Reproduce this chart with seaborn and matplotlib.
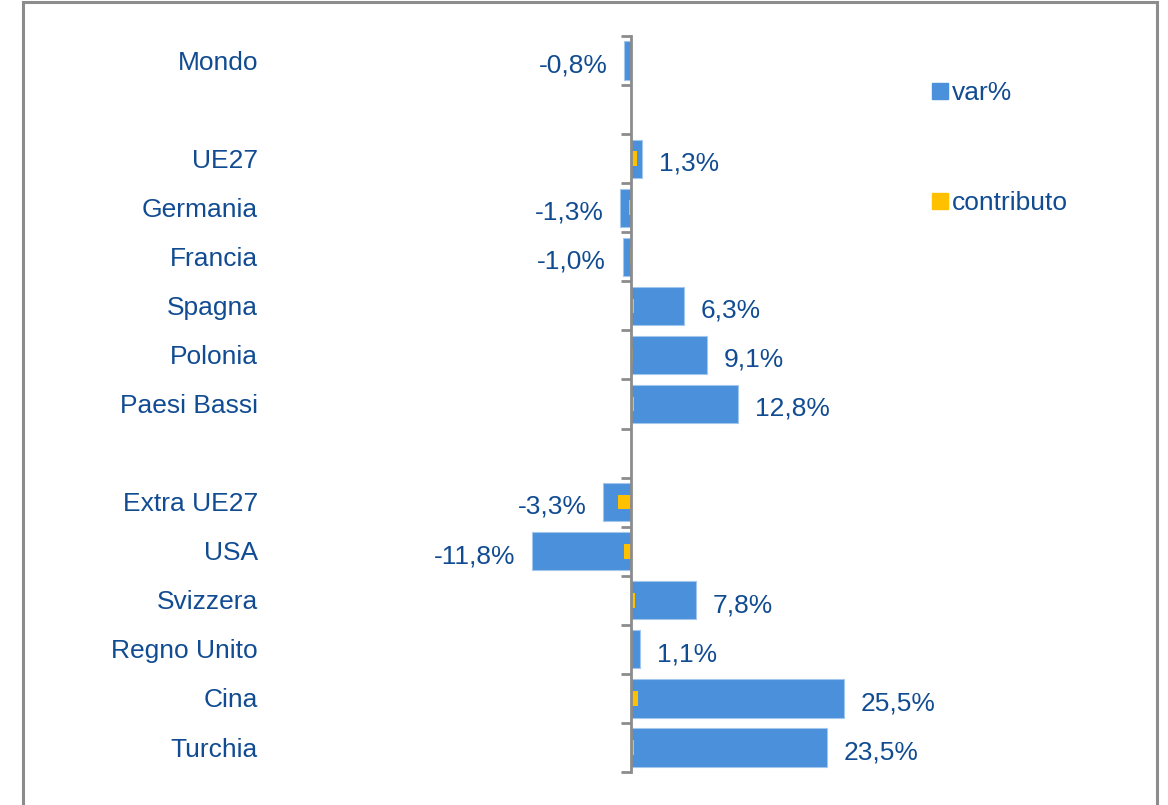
import numpy as np
import pandas as pd
import matplotlib
matplotlib.use('Agg')
import matplotlib.pyplot as plt
import seaborn as sns
from matplotlib.patches import Rectangle
from matplotlib.lines import Line2D
from matplotlib.transforms import blended_transform_factory, offset_copy

# Data (rows top to bottom, "" = empty spacer row)
paesi = ['Mondo', '', 'UE27', 'Germania', 'Francia', 'Spagna', 'Polonia', 'Paesi Bassi',
         '', 'Extra UE27', 'USA', 'Svizzera', 'Regno Unito', 'Cina', 'Turchia']
var_pct = [-0.8, np.nan, 1.3, -1.3, -1.0, 6.3, 9.1, 12.8,
           np.nan, -3.3, -11.8, 7.8, 1.1, 25.5, 23.5]
contributo = [np.nan, np.nan, 0.7, -0.2, -0.1, 0.3, 0.25, 0.3,
              np.nan, -1.5, -0.85, 0.45, 0.05, 0.8, 0.4]
var_labels = ['-0,8%', '', '1,3%', '-1,3%', '-1,0%', '6,3%', '9,1%', '12,8%',
              '', '-3,3%', '-11,8%', '7,8%', '1,1%', '25,5%', '23,5%']

blue = '#4A90DA'
yellow = '#FFC000'
txt = '#114C92'
grey = '#8C8C8C'

# unique row keys so the spacer rows keep their place
rows = [f'r{i}' for i in range(len(paesi))]
df = pd.DataFrame({'row': rows, 'var': var_pct, 'contr': contributo})

sns.set_style('white')
plt.rcParams['font.family'] = ['Liberation Sans', 'DejaVu Sans']

W, H = 1168, 805
fig = plt.figure(figsize=(W / 100, H / 100), dpi=100)
x0 = 631            # pixel of zero line
ppu = 8.35          # pixels per percentage point
ax_l, ax_r = 300, 1100
ax_top, ax_bot = 36, 772
ax = fig.add_axes([ax_l / W, (H - ax_bot) / H, (ax_r - ax_l) / W, (ax_bot - ax_top) / H])

sns.barplot(data=df, x='var', y='row', order=rows, orient='h', color=blue,
            saturation=1, width=0.78, edgecolor='#A3C6EC', linewidth=0.8, ax=ax)
sns.barplot(data=df, x='contr', y='row', order=rows, orient='h', color=yellow,
            saturation=1, width=0.3, linewidth=0, ax=ax)

ax.set_xlim((ax_l - x0) / ppu, (ax_r - x0) / ppu)
ax.set_ylim(len(rows) - 0.5, -0.5)
ax.set_xlabel('')
ax.set_ylabel('')

for s in ['top', 'right', 'bottom']:
    ax.spines[s].set_visible(False)
ax.spines['left'].set_position(('data', 0))
ax.spines['left'].set_color(grey)
ax.spines['left'].set_linewidth(2)
ax.set_xticks([])
ax.set_yticks(np.arange(-0.5, len(rows), 1.0))
ax.set_yticklabels([])
ax.tick_params(axis='y', direction='out', length=7, width=2, color=grey, left=True)

# category names
tr = blended_transform_factory(fig.transFigure, ax.transData)
tr = offset_copy(tr, fig=fig, x=0, y=-1.5, units='points')
for i, name in enumerate(paesi):
    if name:
        ax.text(258 / W, i, name, transform=tr, ha='right', va='center',
                fontsize=19, color=txt)

# value labels
for i, (v, lab) in enumerate(zip(var_pct, var_labels)):
    if lab:
        off = 12 if v >= 0 else -12
        ax.annotate(lab, (v, i), xytext=(off, -3.5), textcoords='offset points',
                    ha='left' if v >= 0 else 'right', va='center',
                    fontsize=19, color=txt)

# legend
handles = [Line2D([], [], marker='s', linestyle='', color=blue, markersize=11),
           Line2D([], [], marker='s', linestyle='', color=yellow, markersize=11)]
fig.legend(handles, ['var%', 'contributo'], loc='upper left',
           bbox_to_anchor=(919 / W, 1 - 68 / H), frameon=False, fontsize=19,
           labelcolor=txt, handlelength=0.6, handletextpad=0.15, labelspacing=3.25,
           borderpad=0)

# outer frame
fig.patches.append(Rectangle((22.5 / W, -0.05), (1157 - 22.5) / W, 1.05 - 2.5 / H,
                             transform=fig.transFigure, fill=False,
                             edgecolor=grey, linewidth=2.2))

fig.savefig('out.png', dpi=100)
